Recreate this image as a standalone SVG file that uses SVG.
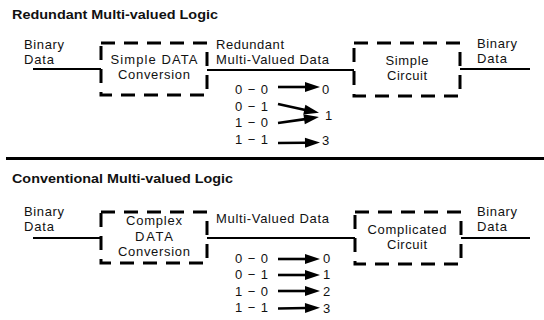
<svg xmlns="http://www.w3.org/2000/svg" width="544" height="320" viewBox="0 0 544 320">
  <style>
    text { font-family: "Liberation Sans", Arial, sans-serif; fill: #111; }
    .title { font-size: 12.5px; font-weight: bold; }
    .lbl { font-size: 13px; }
    .mid { text-anchor: middle; }
    .box { fill: none; stroke: #000; stroke-width: 3; stroke-dasharray: 14 9; }
    .wire { stroke: #000; stroke-width: 2; fill: none; }
    .arrow { stroke: #000; stroke-width: 2.6; fill: none; marker-end: url(#head); }
    .rule { stroke: #000; stroke-width: 3; }
  </style>
  <defs>
    <marker id="head" markerUnits="userSpaceOnUse" markerWidth="16" markerHeight="11" refX="1" refY="5" orient="auto" overflow="visible">
      <path d="M0,0 L15,5 L0,10 Z" fill="#000"/>
    </marker>
  </defs>
  <rect width="544" height="320" fill="#fff"/>

  <!-- Section 1: redundant multi-valued logic -->
  <text class="title" x="12" y="19" textLength="206" lengthAdjust="spacingAndGlyphs">Redundant Multi-valued Logic</text>

  <g id="in1">
    <text class="lbl" x="24" y="49" textLength="40">Binary</text>
    <text class="lbl" x="24" y="64" textLength="30">Data</text>
  </g>
  <g id="conv1">
    <rect class="box" x="101" y="43" width="106" height="52"/>
    <text class="lbl mid" x="154" y="64" textLength="87">Simple DATA</text>
    <text class="lbl mid" x="154" y="79" textLength="72">Conversion</text>
  </g>
  <g id="mv1">
    <text class="lbl" x="216" y="49" textLength="68">Redundant</text>
    <text class="lbl" x="216" y="64" textLength="113">Multi-Valued Data</text>
  </g>
  <g id="circ1">
    <rect class="box" x="354" y="43" width="106" height="53"/>
    <text class="lbl mid" x="407" y="65" textLength="43">Simple</text>
    <text class="lbl mid" x="407" y="80" textLength="40">Circuit</text>
  </g>
  <g id="out1">
    <text class="lbl" x="477" y="48" textLength="40">Binary</text>
    <text class="lbl" x="477" y="63" textLength="30">Data</text>
  </g>
  <g id="map1">
    <text class="lbl" x="235" y="94" textLength="33">0 − 0</text>
    <text class="lbl" x="235" y="111" textLength="33">0 − 1</text>
    <text class="lbl" x="235" y="127" textLength="33">1 − 0</text>
    <text class="lbl" x="235" y="144" textLength="33">1 − 1</text>
    <text class="lbl" x="322" y="94">0</text>
    <text class="lbl" x="325" y="120">1</text>
    <text class="lbl" x="322" y="145">3</text>
  </g>

  <g id="connectors1">
    <line class="wire" x1="33" y1="69" x2="101" y2="69"/>
    <line class="wire" x1="207" y1="70" x2="354" y2="70"/>
    <line class="wire" x1="460" y1="69" x2="530" y2="69"/>
    <line class="arrow" x1="278" y1="87" x2="306" y2="87"/>
    <line class="arrow" x1="278" y1="104" x2="305.3" y2="109.9"/>
    <line class="arrow" x1="278" y1="123" x2="305.1" y2="119.1"/>
    <line class="arrow" x1="278" y1="143" x2="306" y2="142.7"/>
  </g>

  <line class="rule" x1="6" y1="158.5" x2="544" y2="158.5"/>

  <!-- Section 2: conventional multi-valued logic -->
  <text class="title" x="12" y="183" textLength="221" lengthAdjust="spacingAndGlyphs">Conventional Multi-valued Logic</text>

  <g id="in2">
    <text class="lbl" x="24" y="216" textLength="40">Binary</text>
    <text class="lbl" x="24" y="231" textLength="30">Data</text>
  </g>
  <g id="conv2">
    <rect class="box" x="101" y="212" width="106" height="51"/>
    <text class="lbl mid" x="154" y="225" textLength="56">Complex</text>
    <text class="lbl mid" x="154" y="241" textLength="38">DATA</text>
    <text class="lbl mid" x="154" y="256" textLength="72">Conversion</text>
  </g>
  <g id="mv2">
    <text class="lbl" x="216" y="223" textLength="113">Multi-Valued Data</text>
  </g>
  <g id="circ2">
    <rect class="box" x="355" y="212" width="106" height="52"/>
    <text class="lbl mid" x="407" y="234" textLength="79">Complicated</text>
    <text class="lbl mid" x="407" y="249" textLength="40">Circuit</text>
  </g>
  <g id="out2">
    <text class="lbl" x="477" y="216" textLength="40">Binary</text>
    <text class="lbl" x="477" y="231" textLength="30">Data</text>
  </g>
  <g id="map2">
    <text class="lbl" x="235" y="263" textLength="33">0 − 0</text>
    <text class="lbl" x="235" y="279" textLength="33">0 − 1</text>
    <text class="lbl" x="235" y="296" textLength="33">1 − 0</text>
    <text class="lbl" x="235" y="312" textLength="33">1 − 1</text>
    <text class="lbl" x="323" y="263">0</text>
    <text class="lbl" x="323" y="279">1</text>
    <text class="lbl" x="323" y="296">2</text>
    <text class="lbl" x="323" y="313">3</text>
  </g>

  <g id="connectors2">
    <line class="wire" x1="33" y1="238" x2="101" y2="238"/>
    <line class="wire" x1="207" y1="238" x2="355" y2="238"/>
    <line class="wire" x1="461" y1="238" x2="530" y2="238"/>
    <line class="arrow" x1="278" y1="259" x2="306" y2="259"/>
    <line class="arrow" x1="278" y1="275" x2="306" y2="275"/>
    <line class="arrow" x1="278" y1="291" x2="306" y2="291"/>
    <line class="arrow" x1="278" y1="308.5" x2="306" y2="308"/>
  </g>
</svg>
